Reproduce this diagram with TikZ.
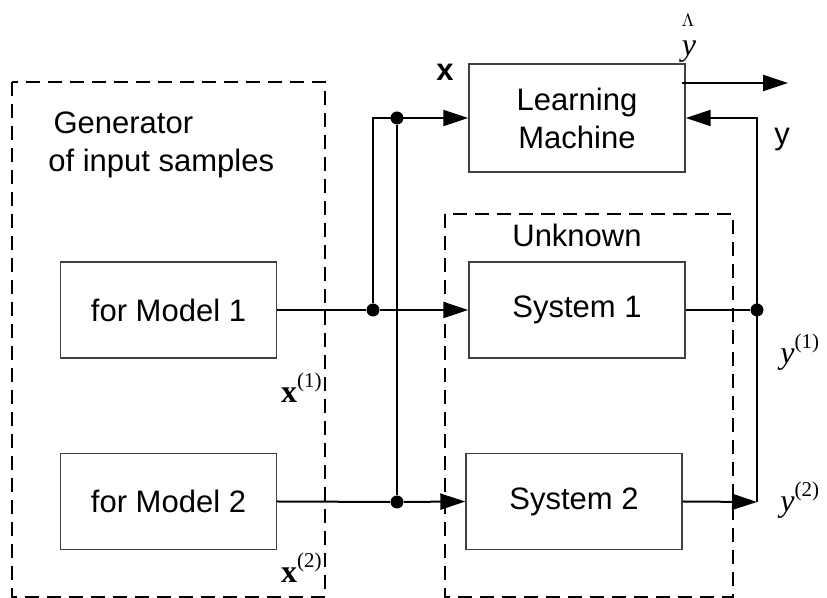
\documentclass[tikz,border=0pt]{standalone}
\usepackage{fontspec}
\setmainfont{Liberation Sans}
\newfontfamily\serifface{Liberation Serif}
\usetikzlibrary{positioning,arrows.meta}

\begin{document}
\begin{tikzpicture}[x=0.5pt,y=-0.5pt,
		blockbox/.style={shape=rectangle,draw=black!75,line width=0.7pt,inner sep=0pt,minimum width=108pt,minimum height=48pt,font=\fontsize{15.5}{19}\selectfont,align=center},
		groupbox/.style={draw=black,line width=1pt,dash pattern=on 7pt off 4pt},
		wire/.style={line width=1pt},
		tip/.style={-{Triangle[length=12.5pt,width=8pt]}},
		dot/.style={shape=circle,fill=black,inner sep=0pt,minimum size=6.5pt},
		label/.style={font=\fontsize{15.5}{19}\selectfont},
		mlabel/.style={font=\serifface\fontsize{16}{18}\selectfont,inner sep=0pt}]
		\useasboundingbox (0,0) rectangle (827,598);
		
		% dashed groups
		\draw[groupbox] (12,82) rectangle (325,597);
		\draw[groupbox] (445,214) rectangle (733,597);
		\node[label,align=left,anchor=north west,inner sep=0pt] (gen) at (48,111) {\,Generator\\of input samples};
		\node[label] (unk) at (577,235) {Unknown};
		
		% blocks
		\node[blockbox,minimum height=54pt] (lm) at (577,118) {Learning\\Machine};
		\node[blockbox] (m1) at (168.5,310) {for Model 1};
		\node[blockbox] (m2) at (168.5,501.5) {for Model 2};
		\node[blockbox] (s1) at (577,310) {System 1};
		\node[blockbox] (s2) at (574,501.5) {System 2};
		
		% junctions
		\node[dot] (j1) at (373,310) {};
		\node[dot] (j2) at (397,502) {};
		\node[dot] (j3) at (397,118) {};
		\node[dot] (j4) at (757,310) {};
		\coordinate (c1) at (373,118);
		\coordinate (c2) at (757,502);
		\coordinate (c3) at (757,118);
		\coordinate (out) at (788,83);
		
		% connectors
		\draw[wire] (m1.east) -- (j1);
		\draw[wire,tip] (j1) -- (s1.west);
		\draw[wire] (m2.east) -- (j2);
		\draw[wire,tip] (j2) -- (s2.west);
		\draw[wire,tip] (j1) -- (c1) -- (lm.west);
		\draw[wire] (j2) -- (j3);
		\draw[wire] (s1.east) -- (j4);
		\draw[wire,tip] (s2.east) -- (c2);
		\draw[wire,tip] (c2) -- (c3) -- (lm.east);
		\draw[wire,tip] (682,83) -- (out);
		
		% labels
		\node[label,font=\fontsize{15.5}{19}\selectfont\bfseries] (xl) at (445,72) {x};
		\node[label] (yl) at (782,140) {y};
		\node[mlabel,anchor=base] (hat) at (688,27) {\fontsize{9}{10}\selectfont$\Lambda$};
		\node[mlabel,anchor=base] (yh) at (689,56) {\textit{y}};
		\node[mlabel,anchor=east] (x1) at (322,388) {\textbf{x}\raisebox{1ex}{\fontsize{10.5}{11}\selectfont(1)}};
		\node[mlabel,anchor=east] (x2) at (322,568) {\textbf{x}\raisebox{1ex}{\fontsize{10.5}{11}\selectfont(2)}};
		\node[mlabel,anchor=west] (y1) at (780,352) {\textit{y}\raisebox{1ex}{\fontsize{10.5}{11}\selectfont(1)}};
		\node[mlabel,anchor=west] (y2) at (780,500) {\textit{y}\raisebox{1ex}{\fontsize{10.5}{11}\selectfont(2)}};
\end{tikzpicture}
\end{document}
